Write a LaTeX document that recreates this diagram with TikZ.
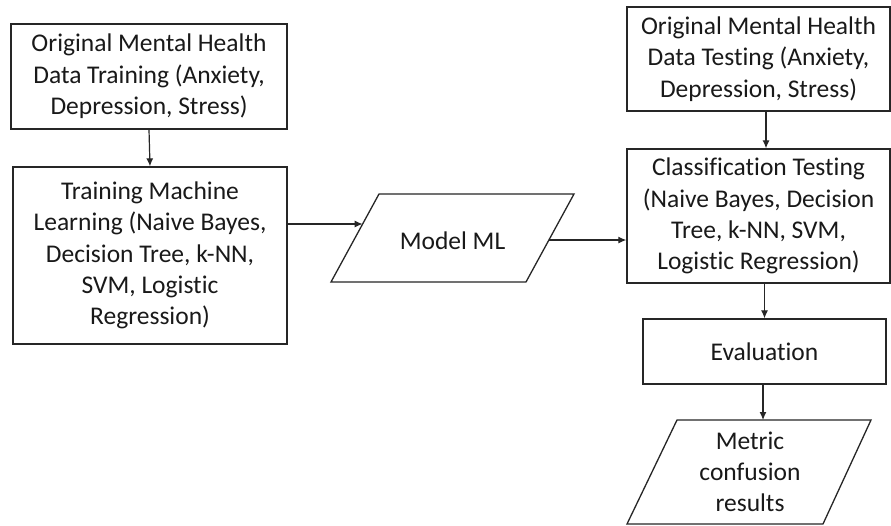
\documentclass[tikz,border=0pt]{standalone}
\usepackage{fontspec}
\setmainfont{Carlito}[Ligatures=NoCommon]
\usetikzlibrary{arrows.meta,calc}
\begin{document}
\begin{tikzpicture}[x=1pt,y=1pt,
  line width=1.3pt, draw=black!85,
  font=\fontsize{25.5}{31.3}\selectfont,
  every node/.style={text=black!90},
  procbox/.style={draw, rectangle, inner sep=0pt, align=center},
  arr/.style={-{Latex[length=8pt,width=7pt]}, line width=1.2pt}
]
\useasboundingbox (0,0) rectangle (891,525);
\fill[white] (0,0) rectangle (891,525);

\node[procbox, minimum width=276pt, minimum height=105pt] (b1) at (149,448.5)
  {Original Mental Health\\Data Training (Anxiety,\\Depression, Stress)};
\node[procbox, minimum width=274pt, minimum height=177pt] (b2) at (150,269.5)
  {Training Machine\\Learning (Naive Bayes,\\Decision Tree, k-NN,\\SVM, Logistic\\Regression)};
% Model ML parallelogram
\coordinate (mlbl) at (331,243);
\coordinate (mlbr) at (526,243);
\coordinate (mltr) at (574,331);
\coordinate (mltl) at (379,331);
\draw (mlbl) -- (mlbr) -- (mltr) -- (mltl) -- cycle;
\node[align=center] (ml) at (452.5,284) {Model ML};
\node[procbox, minimum width=263pt, minimum height=104pt] (b3) at (758.5,466)
  {Original Mental Health\\Data Testing (Anxiety,\\Depression, Stress)};
\node[procbox, minimum width=263pt, minimum height=134pt] (b4) at (758.5,309)
  {Classification Testing\\(Naive Bayes, Decision\\Tree, k-NN, SVM,\\Logistic Regression)};
\node[procbox, minimum width=243pt, minimum height=65pt] (ev) at (764.5,173.5)
  {Evaluation};
% Metric parallelogram
\coordinate (mcbl) at (627,1);
\coordinate (mcbr) at (823,1);
\coordinate (mctr) at (871,105);
\coordinate (mctl) at (677,105);
\draw (mcbl) -- (mcbr) -- (mctr) -- (mctl) -- cycle;
\node[align=center] (mc) at (750,53) {Metric\\confusion\\results};

\draw[arr] (b1.south) -- (b2.north);
\coordinate (mlin) at ($(mlbl)!0.659!(mltl)$);
\draw[arr] (b2.east |- mlin) -- (mlin);
\coordinate (mlout) at ($(mlbr)!0.477!(mltr)$);
\draw[arr] (mlout) -- (b4.west |- mlout);
\draw[arr] ([xshift=7.5pt]b3.south) -- ([xshift=7.5pt]b3.south |- b4.north);
\draw[arr] ([xshift=6pt]b4.south) -- ([xshift=6pt]b4.south |- ev.north);
\draw[arr] ([xshift=-1.5pt]ev.south) -- ([xshift=-1.5pt]ev.south |- mctl);
\end{tikzpicture}
\end{document}
